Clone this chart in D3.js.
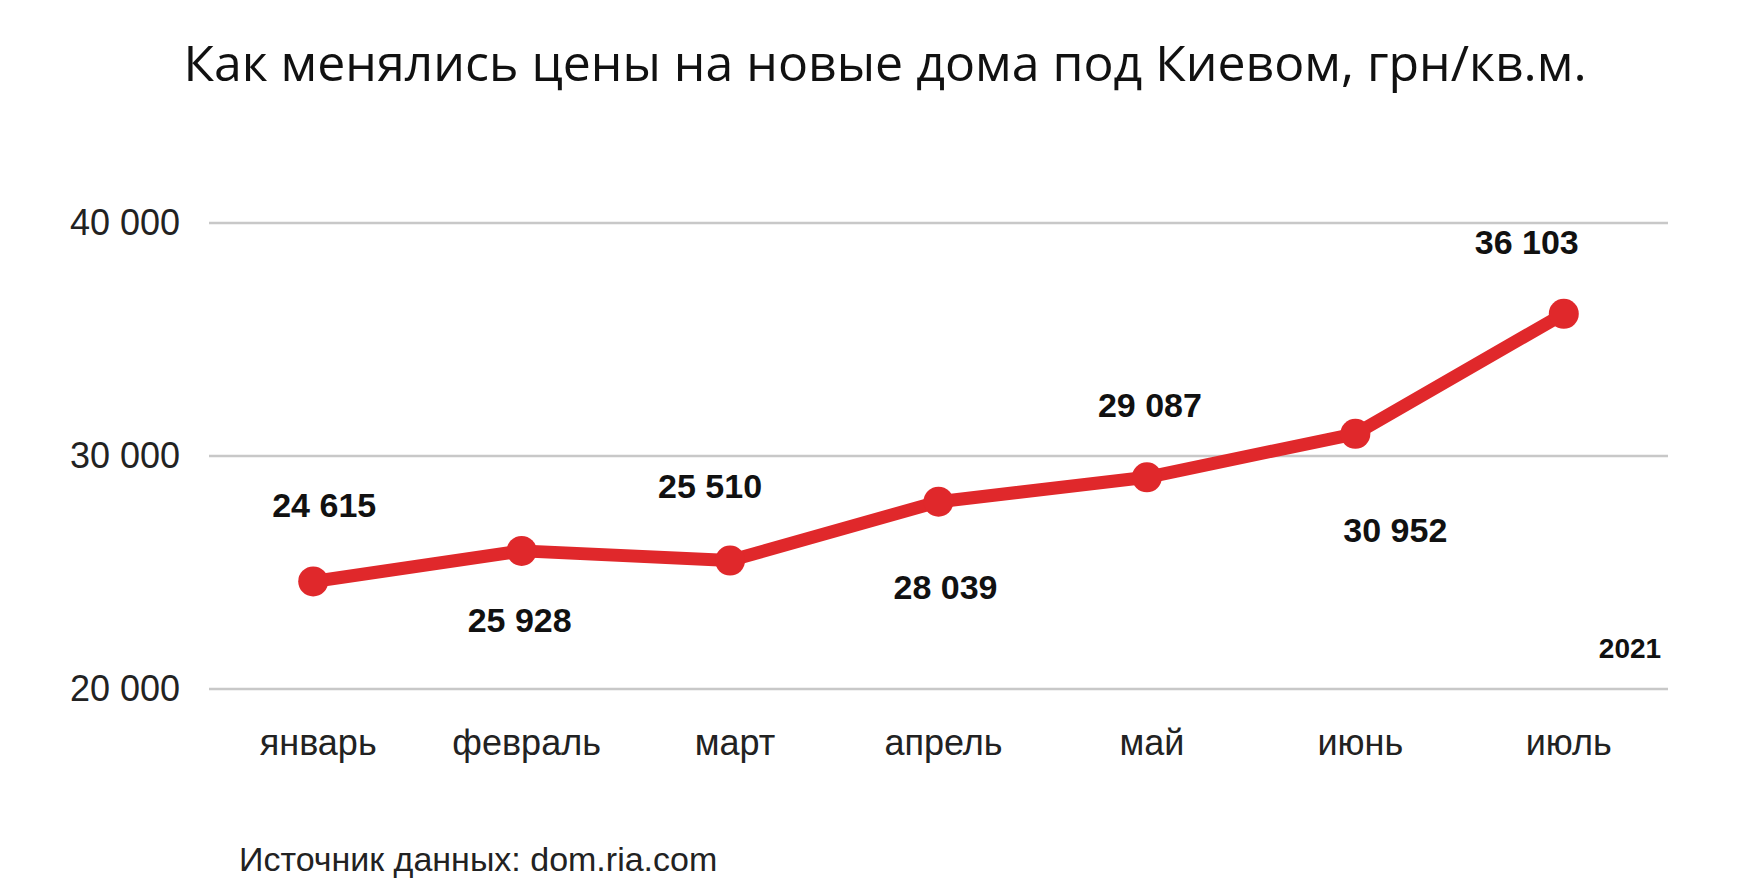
<!DOCTYPE html>
<html><head><meta charset="utf-8">
<script src="https://cdn.jsdelivr.net/npm/d3@7/dist/d3.min.js"></script>
<style>body{margin:0;background:#fff}text{font-family:"Liberation Sans",Arial,sans-serif}</style>
</head><body><div id="chart"></div>
<script>
const months = ["январь","февраль","март","апрель","май","июнь","июль"];
const prices = [24615,25928,25510,28039,29087,30952,36103];
const yTicks = [20000,30000,40000];
// label placement around each point: [dx, dy]
const labelOffsets = [[11,-76],[-2,69],[-20,-75],[7,85],[3,-72],[40,96],[-37,-72]];

const width = 1748, height = 893;
const svg = d3.select("#chart").append("svg").attr("width",width).attr("height",height);

const x = d3.scalePoint().domain(months).range([209,1668]).padding(0.5);
const y = d3.scaleLinear().domain([20000,40000]).range([689,223]);
const fmt = v => d3.format(",")(v).replace(/,/g," ");

svg.append("text").attr("x",885).attr("y",81).attr("text-anchor","middle")
  .style("font-family","'Open Sans',sans-serif").attr("font-size",50).attr("fill","#111")
  .text("Как менялись цены на новые дома под Киевом, грн/кв.м.");

const grid = svg.append("g");
yTicks.forEach(t=>{
  grid.append("line").attr("x1",209).attr("x2",1668).attr("y1",y(t)).attr("y2",y(t))
    .attr("stroke","#c8c8c8").attr("stroke-width",2.5);
  grid.append("text").attr("x",180).attr("y",y(t)+12).attr("text-anchor","end")
    .attr("font-size",36).attr("fill","#222").text(fmt(t));
});

months.forEach(m=>{
  svg.append("text").attr("x",x(m)+5).attr("y",755).attr("text-anchor","middle")
    .attr("font-size",36).attr("fill","#222").text(m);
});

const line = d3.line().x((d,i)=>x(months[i])).y(d=>y(d));
svg.append("path").attr("d",line(prices)).attr("fill","none")
  .attr("stroke","#e0282b").attr("stroke-width",13).attr("stroke-linejoin","round");
svg.selectAll("circle.pt").data(prices).join("circle")
  .attr("cx",(d,i)=>x(months[i])).attr("cy",d=>y(d)).attr("r",15).attr("fill","#e0282b");

svg.selectAll("text.lbl").data(prices).join("text").attr("class","lbl")
  .attr("x",(d,i)=>x(months[i])+labelOffsets[i][0])
  .attr("y",(d,i)=>y(d)+labelOffsets[i][1]+12)
  .attr("text-anchor","middle").attr("font-size",34).attr("font-weight","bold").attr("fill","#111")
  .text(d=>fmt(d));

svg.append("text").attr("x",1630).attr("y",658).attr("text-anchor","middle")
  .attr("font-size",28).attr("font-weight","bold").attr("fill","#111").text("2021");

svg.append("text").attr("x",239).attr("y",871).attr("font-size",34).attr("fill","#222")
  .text("Источник данных: dom.ria.com");
</script></body></html>
